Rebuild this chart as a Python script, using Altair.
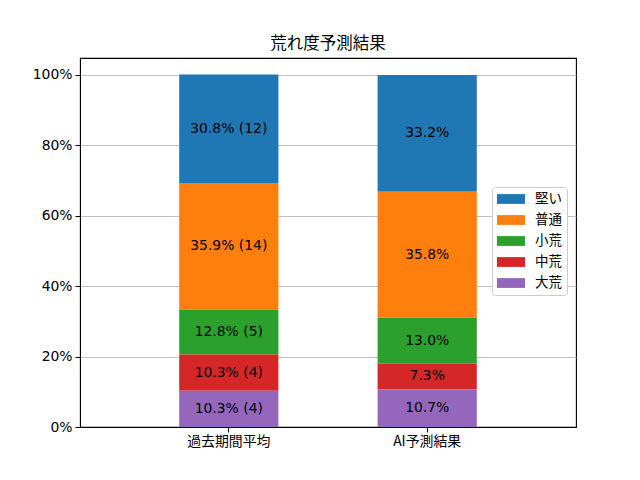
import altair as alt
import pandas as pd

categories = ["過去期間平均", "AI予測結果"]
types = ["堅い", "普通", "小荒", "中荒", "大荒"]
colors = ["#1f77b4", "#ff7f0e", "#2ca02c", "#d62728", "#9467bd"]
past_pct = [30.8, 35.9, 12.8, 10.3, 10.3]
past_cnt = [12, 14, 5, 4, 4]
ai_pct = [33.2, 35.8, 13.0, 7.3, 10.7]

rows = []
for i, t in enumerate(types):
    rows.append({"cat": categories[0], "type": t, "value": past_pct[i],
                 "label": f"{past_pct[i]:.1f}% ({past_cnt[i]})", "order": len(types) - i})
    rows.append({"cat": categories[1], "type": t, "value": ai_pct[i],
                 "label": f"{ai_pct[i]:.1f}%", "order": len(types) - i})
df = pd.DataFrame(rows)

CJK = "Noto Sans CJK JP"
LATIN = "DejaVu Sans, Noto Sans CJK JP"
FS = 13.9

base = alt.Chart(df)

x = alt.X("cat:N", sort=categories, title=None,
          scale=alt.Scale(paddingInner=0.5, paddingOuter=0.5),
          axis=alt.Axis(labelAngle=0, labelFontSize=FS, labelFont=CJK, labelColor="black",
                        domainColor="black", tickColor="black", tickSize=5, labelPadding=2,
                        grid=False))

bars = base.mark_bar().encode(
    x=x,
    y=alt.Y("value:Q", stack="zero", title=None,
            scale=alt.Scale(domain=[0, 104.8], nice=False),
            axis=alt.Axis(values=[0, 20, 40, 60, 80, 100], labelExpr="datum.value + '%'",
                          labelFontSize=FS, labelFont=LATIN, labelColor="black",
                          domainColor="black", tickColor="black", tickSize=5, labelPadding=3,
                          grid=True, gridColor="#b0b0b0", gridWidth=0.8)),
    color=alt.Color("type:N", sort=types,
                    scale=alt.Scale(domain=types, range=colors),
                    legend=alt.Legend(title=None, orient="none", legendX=412, legendY=129,
                                      symbolType="M-2,-0.7H2V0.7H-2Z", symbolSize=196,
                                      symbolStrokeWidth=0, symbolOffset=7,
                                      labelFontSize=13.5, labelFont=CJK, labelColor="black",
                                      fillColor="white", strokeColor="#cccccc", cornerRadius=3,
                                      padding=5, rowPadding=7, labelOffset=17)),
    order=alt.Order("order:Q", sort="ascending"),
)

texts = base.transform_window(
    cum="sum(value)", groupby=["cat"], sort=[alt.SortField("order", order="ascending")]
).transform_calculate(
    mid="datum.cum - datum.value / 2"
).mark_text(fontSize=FS, font=LATIN, color="black").encode(
    x=alt.X("cat:N", sort=categories),
    y=alt.Y("mid:Q"),
    text="label:N",
)

chart = alt.layer(bars, texts).properties(
    width=496, height=369,
    title=alt.Title("荒れ度予測結果", fontSize=16.5, font=CJK, fontWeight="normal",
                    color="black", offset=6),
    autosize=alt.AutoSizeParams(type="none"),
    padding={"left": 72, "top": 50, "right": 56, "bottom": 45},
).configure_view(stroke="black", strokeWidth=1.1)

chart.save("out.html", embed_options={"renderer": "svg", "actions": False})
